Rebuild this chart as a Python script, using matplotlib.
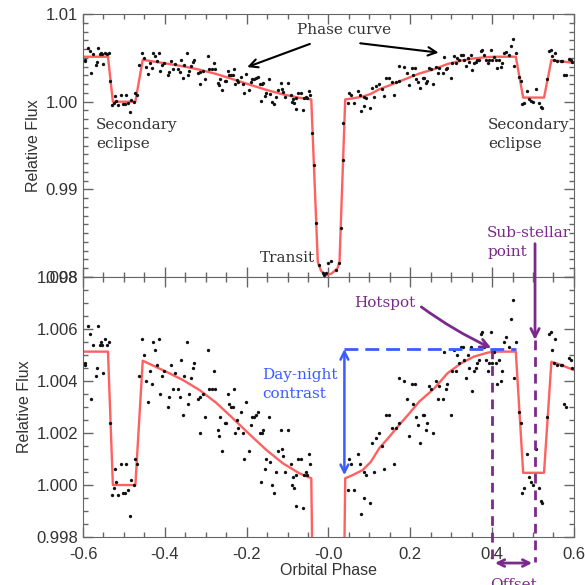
import numpy as np
import matplotlib
matplotlib.use('Agg')
import matplotlib.pyplot as plt
from matplotlib.ticker import MultipleLocator

# best-fit model (phase, relative flux)
model_phase = [-0.600, -0.539, -0.527, -0.472, -0.454, -0.397, -0.356, -0.315, -0.275, -0.242,
               -0.193, -0.152, -0.111, -0.071, -0.042, -0.026, -0.018, -0.006, 0.008, 0.022,
               0.027, 0.041, 0.059, 0.084, 0.104, 0.124, 0.149, 0.173, 0.198, 0.222,
               0.259, 0.291, 0.324, 0.356, 0.389, 0.405, 0.458, 0.476, 0.527, 0.545,
               0.568, 0.600]
model_flux = [1.00513, 1.00513, 1.00000, 1.00000, 1.00478, 1.00436, 1.00404, 1.00365, 1.00317, 1.00269,
              1.00195, 1.00135, 1.00083, 1.00045, 1.00026, 0.98170, 0.98070, 0.98020, 0.98040, 0.98100,
              0.98170, 1.00026, 1.00038, 1.00058, 1.00090, 1.00141, 1.00186, 1.00231, 1.00276, 1.00321,
              1.00372, 1.00430, 1.00468, 1.00494, 1.00509, 1.00513, 1.00513, 1.00047, 1.00047, 1.00474,
              1.00462, 1.00442]

# binned data points
data_phase = [
    -0.588, -0.584, -0.563, -0.576, -0.559, -0.555, -0.554, -0.547, -0.541, -0.537,
    -0.596, -0.594, -0.567, -0.569, -0.551, -0.580, -0.533, -0.523, -0.519, -0.525,
    -0.528, -0.515, -0.507, -0.502, -0.498, -0.494, -0.490, -0.486, -0.482, -0.476,
    -0.472, -0.467, -0.462, -0.455, -0.451, -0.446, -0.437, -0.432, -0.441, -0.428,
    -0.423, -0.415, -0.420, -0.411, -0.407, -0.401, -0.393, -0.389, -0.385, -0.380,
    -0.374, -0.368, -0.364, -0.360, -0.356, -0.352, -0.346, -0.344, -0.340, -0.336,
    -0.332, -0.328, -0.320, -0.315, -0.314, -0.307, -0.301, -0.295, -0.291, -0.284,
    -0.277, -0.279, -0.271, -0.268, -0.265, -0.260, -0.254, -0.250, -0.246, -0.242,
    -0.238, -0.234, -0.230, -0.228, -0.224, -0.220, -0.214, -0.210, -0.206, -0.202,
    -0.193, -0.189, -0.187,
    -0.183, -0.178, -0.172, -0.168, -0.162, -0.159, -0.146, -0.115, -0.099, -0.124,
    -0.114, -0.111, -0.152, -0.142, -0.156, -0.128, -0.107, -0.091, -0.075, -0.067,
    -0.087, -0.079, -0.059, -0.056, -0.053, -0.048, -0.046, -0.164, -0.137, -0.134,
    -0.089, -0.085, -0.079, -0.063,
    -0.0398, -0.0341, -0.0301, -0.0219, -0.0138, -0.0097, -0.0057, -0.0016, 0.0065, 0.0187,
    0.0268, 0.0309, 0.0350, 0.0366,
    0.047, 0.063, 0.051, 0.055, 0.072, 0.076, 0.088, 0.093, 0.088, 0.102,
    0.080, 0.112, 0.107, 0.116, 0.124, 0.132, 0.137, 0.141, 0.149, 0.155,
    0.161, 0.165, 0.172, 0.173, 0.185, 0.193, 0.198, 0.204, 0.207, 0.212,
    0.218, 0.214,
    0.224, 0.230, 0.233, 0.242, 0.238, 0.255, 0.246, 0.250, 0.263, 0.267,
    0.271, 0.279, 0.283, 0.287, 0.291, 0.299, 0.303, 0.307, 0.311, 0.315,
    0.320, 0.324, 0.328, 0.332, 0.336, 0.340, 0.344, 0.348, 0.352, 0.356,
    0.360, 0.364, 0.368, 0.372, 0.376, 0.381, 0.385, 0.389, 0.393, 0.397,
    0.401, 0.405, 0.409, 0.413, 0.417, 0.421, 0.425, 0.429, 0.433, 0.441,
    0.446, 0.450, 0.454, 0.458, 0.466, 0.470, 0.474, 0.478, 0.486, 0.490,
    0.494, 0.501, 0.507, 0.515, 0.519, 0.523, 0.535, 0.539, 0.543, 0.547,
    0.551, 0.555, 0.559, 0.568, 0.572, 0.576, 0.580, 0.588, 0.592, 0.596]
data_flux = [
    1.0061, 1.0058, 1.0061, 1.0054, 1.0054, 1.0055, 1.0054, 1.0056, 1.0054, 1.0055,
    1.0047, 1.0046, 1.0045, 1.0042, 1.0043, 1.0033, 1.0024, 1.0006, 1.0001, 0.9999,
    0.9996, 0.9996, 1.0008, 0.9997, 0.9997, 1.0008, 0.9998, 0.9988, 1.0002, 1.0000,
    1.0010, 1.0008, 1.0042, 1.0056, 1.0050, 1.0040, 1.0044, 1.0039, 1.0032, 1.0055,
    1.0052, 1.0056, 1.0046, 1.0035, 1.0042, 1.0044, 1.0030, 1.0034, 1.0046, 1.0037,
    1.0043, 1.0037, 1.0034, 1.0048, 1.0027, 1.0042, 1.0055, 1.0031, 1.0035, 1.0041,
    1.0045, 1.0047, 1.0033, 1.0034, 1.0020, 1.0035, 1.0026, 1.0052, 1.0037, 1.0037,
    1.0037, 1.0044, 1.0021, 1.0019, 1.0026, 1.0013, 1.0024, 1.0024, 1.0035, 1.0031,
    1.0030, 1.0030, 1.0037, 1.0020, 1.0025, 1.0022, 1.0028, 1.0020, 1.0010, 1.0032,
    1.0013, 1.0023, 1.0026,
    1.0026, 1.0027, 1.0028, 1.0020, 1.0020, 1.0021, 1.0026, 1.0021, 1.0021, 1.0013,
    1.0014, 1.0011, 1.0010, 1.0009, 1.0006, 1.0005, 1.0005, 1.0008, 1.0010, 1.0010,
    1.0003, 1.0004, 1.0004, 1.0005, 1.0004, 1.0012, 1.0008, 1.0001, 1.0000, 0.9997,
    1.0000, 0.9999, 0.9992, 0.9991,
    0.99639, 0.99278, 0.98620, 0.98138, 0.98050, 0.98024, 0.98043, 0.98156, 0.98187, 0.98080,
    0.98156, 0.98556, 0.99335, 0.99753,
    0.9998, 0.9998, 1.0010, 1.0008, 1.0012, 1.0008, 1.0005, 1.0004, 0.9995, 0.9993,
    0.9989, 1.0005, 1.0016, 1.0018, 1.0020, 1.0015, 1.0006, 1.0027, 1.0027, 1.0022,
    1.0008, 1.0022, 1.0024, 1.0041, 1.0040, 1.0033, 1.0019, 1.0039, 1.0031, 1.0039,
    1.0023, 1.0026,
    1.0016, 1.0027, 1.0027, 1.0024, 1.0021, 1.0020, 1.0038, 1.0037, 1.0040, 1.0033,
    1.0038, 1.0033, 1.0051, 1.0037, 1.0039, 1.0027, 1.0044, 1.0052, 1.0044, 1.0050,
    1.0047, 1.0053, 1.0053, 1.0048, 1.0041, 1.0050, 1.0045, 1.0053, 1.0036, 1.0044,
    1.0045, 1.0047, 1.0048, 1.0058, 1.0059, 1.0053, 1.0048, 1.0044, 1.0047, 1.0059,
    1.0047, 1.0051, 1.0047, 1.0039, 1.0048, 1.0040, 1.0044, 1.0055, 1.0057, 1.0053,
    1.0064, 1.0071, 1.0041, 1.0055, 1.0028, 1.0024, 0.9997, 0.9999, 1.0012, 1.0003,
    1.0001, 1.0000, 1.0014, 0.9999, 0.9994, 0.9993, 1.0026, 1.0058, 1.0059, 1.0052,
    1.0047, 1.0056, 1.0046, 1.0046, 1.0046, 1.0031, 1.0030, 1.0049, 1.0048, 1.0045]

# annotated features
hotspot_phase = 0.40
substellar_phase = 0.505
dayside_flux = 1.00523
nightside_flux = 1.00038

red = '#ff6060'
purple = '#7b2a8c'
blue = '#3a5cff'
grey_txt = '#333333'
serif = 'DejaVu Serif'

plt.rcParams['font.family'] = ['Liberation Sans', 'DejaVu Sans']

fig = plt.figure(figsize=(5.85, 5.85), dpi=100)
ax1 = fig.add_axes([0.1419, 0.5265, 0.8391, 0.4495])
ax2 = fig.add_axes([0.1419, 0.082, 0.8391, 0.4445])

for ax in (ax1, ax2):
    ax.plot(model_phase, model_flux, color=red, lw=1.7, zorder=2)
    ax.plot(data_phase, data_flux, 'o', color='#111111', ms=2.4, mew=0, zorder=3)
    ax.set_xlim(-0.6, 0.6)
    ax.xaxis.set_major_locator(MultipleLocator(0.2))
    ax.xaxis.set_minor_locator(MultipleLocator(0.05))
    ax.tick_params(which='both', direction='in', top=True, right=True,
                   color='#666666', labelcolor=grey_txt, labelsize=12)
    ax.tick_params(which='major', length=7, width=1)
    ax.tick_params(which='minor', length=3.5, width=1)
    for s in ax.spines.values():
        s.set_color('#666666')
    ax.set_ylabel('Relative Flux', fontsize=11.5, color=grey_txt, labelpad=3)

ax1.set_ylim(0.98, 1.01)
ax1.set_yticks([0.98, 0.99, 1.00, 1.01])
ax1.set_yticklabels(['0.98', '0.99', '1.00', '1.01'])
ax1.yaxis.set_minor_locator(MultipleLocator(0.001))
ax1.tick_params(labelbottom=False)

ax2.set_ylim(0.998, 1.008)
yt = [0.998, 1.000, 1.002, 1.004, 1.006, 1.008]
ax2.set_yticks(yt)
ax2.set_yticklabels(['%.3f' % v for v in yt])
ax2.yaxis.set_minor_locator(MultipleLocator(0.0005))
xt = [-0.6, -0.4, -0.2, 0.0, 0.2, 0.4, 0.6]
ax2.set_xticks(xt)
ax2.set_xticklabels(['-0.6', '-0.4', '-0.2', '-0.0', '0.2', '0.4', '0.6'])
ax2.tick_params(axis='x', pad=7)
ax2.set_xlabel('Orbital Phase', fontsize=11.5, color=grey_txt, labelpad=1)

# top panel labels
ax1.text(0.039, 1.0082, 'Phase curve', family=serif, fontsize=11, color=grey_txt,
         ha='center', va='center')
ax1.annotate('', xy=(-0.205, 1.00384), xytext=(-0.039, 1.0067),
             arrowprops=dict(arrowstyle='->', color='black', lw=1.5, mutation_scale=15))
ax1.annotate('', xy=(0.276, 1.00556), xytext=(0.071, 1.0067),
             arrowprops=dict(arrowstyle='->', color='black', lw=1.5, mutation_scale=15))
ax1.text(-0.568, 0.9963, 'Secondary\neclipse', family=serif, fontsize=11, color=grey_txt,
         ha='left', va='center', linespacing=1.45)
ax1.text(0.390, 0.9963, 'Secondary\neclipse', family=serif, fontsize=11, color=grey_txt,
         ha='left', va='center', linespacing=1.45)
ax1.text(-0.168, 0.9822, 'Transit', family=serif, fontsize=11, color=grey_txt,
         ha='left', va='center')
ax1.text(0.388, 0.9839, 'Sub-stellar\npoint', family=serif, fontsize=11, color=purple,
         ha='left', va='center', linespacing=1.45, clip_on=False)

# sub-stellar arrow crossing both panels
ax2.annotate('', xy=(substellar_phase, 1.00558), xytext=(substellar_phase, 0.9838),
             textcoords=ax1.transData, annotation_clip=False,
             arrowprops=dict(arrowstyle='->', color=purple, lw=2, mutation_scale=15,
                             shrinkA=0, shrinkB=0))

# dashed guide lines
ax2.plot([substellar_phase, substellar_phase], [1.00558, 0.99704], color=purple, lw=2,
         ls=(0, (3.5, 2.5)), clip_on=False, zorder=4)
ax2.plot([hotspot_phase, hotspot_phase], [dayside_flux, 0.99704], color=purple, lw=2,
         ls=(0, (3.5, 2.5)), clip_on=False, zorder=4)
ax2.plot([0.039, 0.459], [dayside_flux, dayside_flux], color=blue, lw=2,
         ls=(0, (5, 2.5)), zorder=4)

# day-night contrast
ax2.annotate('', xy=(0.039, nightside_flux), xytext=(0.039, dayside_flux),
             arrowprops=dict(arrowstyle='<->', color=blue, lw=1.8, mutation_scale=14,
                             shrinkA=0, shrinkB=0))
ax2.text(-0.161, 1.00385, 'Day-night\ncontrast', family=serif, fontsize=11, color=blue,
         ha='left', va='center', linespacing=1.45)

# hotspot
ax2.text(0.137, 1.0070, 'Hotspot', family=serif, fontsize=11, color=purple,
         ha='center', va='center')
ax2.annotate('', xy=(0.398, 1.00527), xytext=(0.227, 1.00685),
             arrowprops=dict(arrowstyle='->', color=purple, lw=2, mutation_scale=15,
                             shrinkA=0, shrinkB=0, connectionstyle='arc3,rad=0.05'))

# offset
ax2.annotate('', xy=(0.498, 0.9970), xytext=(0.407, 0.9970), annotation_clip=False,
             arrowprops=dict(arrowstyle='<->', color=purple, lw=2, mutation_scale=12,
                             shrinkA=0, shrinkB=0))
ax2.text(0.452, 0.99615, 'Offset', family=serif, fontsize=11, color=purple,
         ha='center', va='center', clip_on=False)

fig.savefig('out.png', dpi=100)
